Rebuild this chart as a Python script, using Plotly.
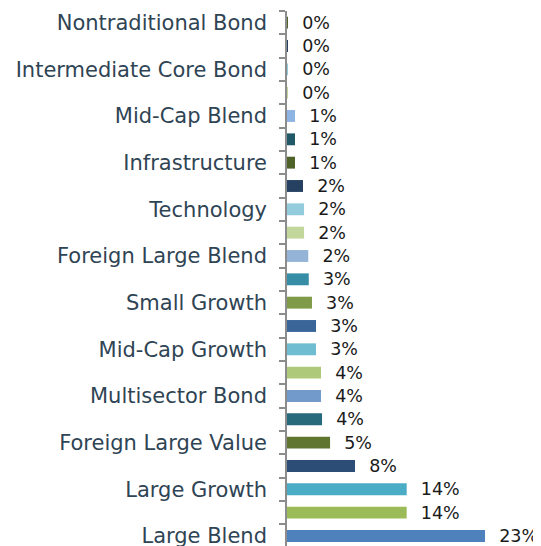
import plotly.graph_objects as go

# values listed bottom-to-top (index 0 = bottom bar)
values = [23.0, 13.9, 13.9, 7.9, 5.0, 4.07, 3.95, 3.95, 3.37, 3.37, 2.9, 2.53,
          2.47, 1.98, 1.98, 1.86, 0.93, 0.93, 0.93, 0.1, 0.02, 0.02, 0.01]
colors = ["#4f81bd", "#9bbb59", "#4bacc6", "#2c4d75", "#5f7530", "#276a7c",
          "#729aca", "#afc97a", "#6fbdd1", "#3a6599", "#7f9a48", "#358ea6",
          "#95b3d7", "#c3d69b", "#93cddd", "#254061", "#4f6228", "#215968",
          "#8eb4e3", "#c3d69b", "#93cddd", "#254061", "#4f6228"]
label_positions = [0, 2, 4, 6, 8, 10, 12, 14, 16, 18, 20, 22]
label_texts = ["Large Blend", "Large Growth", "Foreign Large Value", "Multisector Bond",
               "Mid-Cap Growth", "Small Growth", "Foreign Large Blend", "Technology",
               "Infrastructure", "Mid-Cap Blend", "Intermediate Core Bond",
               "Nontraditional Bond"]

positions = list(range(len(values)))
texts = ["\u00a0\u00a0" + f"{round(v)}%" for v in values]
boundaries = [p - 0.5 for p in positions] + [positions[-1] + 0.5]

FONT = "DejaVu Sans"

fig = go.Figure()
fig.add_trace(go.Bar(
    x=values, y=positions, orientation="h",
    marker=dict(color=colors, line=dict(width=0)),
    width=0.51,
    text=texts, textposition="outside", cliponaxis=False, constraintext="none",
    textfont=dict(family=FONT, size=17.5, color="#1a1a1a"),
    hoverinfo="skip",
))
# invisible trace on the second axis so it is drawn
fig.add_trace(go.Scatter(x=[0], y=[0], yaxis="y2", mode="markers",
                         marker=dict(opacity=0), hoverinfo="skip", showlegend=False))

yr = [-0.43, 22.5]
fig.update_layout(
    width=533, height=538,
    margin=dict(l=279, r=0, t=3, b=0, autoexpand=False),
    paper_bgcolor="white", plot_bgcolor="white",
    showlegend=False,
    xaxis=dict(range=[0, 29.5], visible=False, automargin=False),
    yaxis=dict(range=yr, tickvals=label_positions, ticktext=label_texts,
               ticks="", showgrid=False, zeroline=False, showline=False,
               automargin=False, ticklabeloverflow="allow",
               tickfont=dict(family=FONT, size=21, color="#2f4454"),
               ticklabelstandoff=19),
    yaxis2=dict(range=yr, overlaying="y", side="left", anchor="x",
                tickvals=boundaries, showticklabels=False, automargin=False,
                ticks="outside", ticklen=6, tickwidth=2, tickcolor="#8c8c8c",
                showline=True, linewidth=2, linecolor="#8c8c8c",
                showgrid=False, zeroline=False),
)
fig.write_html("out.html")
